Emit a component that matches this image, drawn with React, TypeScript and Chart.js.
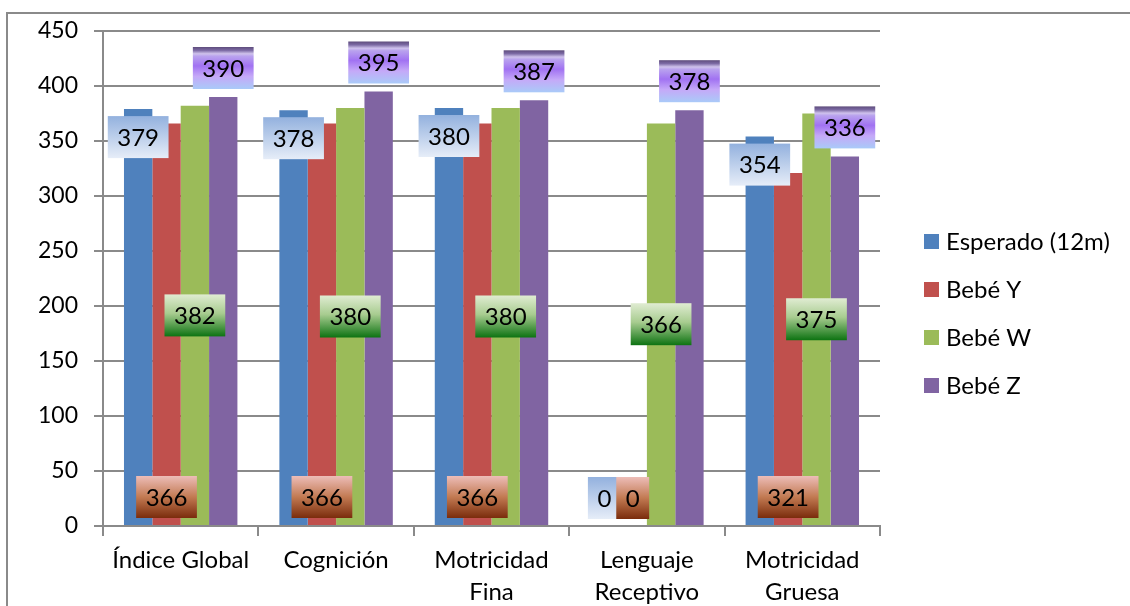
import React, { useEffect, useRef } from "react";
import { Chart, registerables } from "chart.js";

Chart.register(...registerables);

const categories: (string | string[])[] = [
  "Índice Global",
  "Cognición",
  ["Motricidad", "Fina"],
  ["Lenguaje", "Receptivo"],
  ["Motricidad", "Gruesa"],
];
const esperado = [379, 378, 380, 0, 354];
const bebeY = [366, 366, 366, 0, 321];
const bebeW = [382, 380, 380, 366, 375];
const bebeZ = [390, 395, 387, 378, 336];
const seriesNames = ["Esperado (12m)", "Bebé Y", "Bebé W", "Bebé Z"];
const seriesColors = ["#4F81BD", "#C0504D", "#9BBB59", "#8064A2"];
const yTicks = [0, 50, 100, 150, 200, 250, 300, 350, 400, 450];

const FONT = "Lato, 'Open Sans', sans-serif";
const GRID = "#8a8a8a";

type Stop = [number, string];
const labelGradients: Stop[][] = [
  [[0, "#93B1DE"], [1, "#E6EDF8"]],
  [[0, "#EDBDB8"], [0.5, "#C27A52"], [1, "#7A2C0C"]],
  [[0, "#E0ECD2"], [0.45, "#A8CC90"], [1, "#0D7312"]],
  [
    [0, "#5E4C7C"],
    [0.08, "#7C6AA4"],
    [0.16, "#CFC2EC"],
    [0.22, "#B9A2EE"],
    [0.45, "#A172F2"],
    [0.7, "#C5A9F8"],
    [1, "#A9CAF8"],
  ],
];

const labelPlugin = {
  id: "valueBoxes",
  afterDatasetsDraw(chart: any) {
    const ctx = chart.ctx as CanvasRenderingContext2D;
    const boxH = 42;
    ctx.save();
    ctx.font = `24px ${FONT}`;
    ctx.textAlign = "center";
    ctx.textBaseline = "middle";
    chart.data.datasets.forEach((ds: any, di: number) => {
      const meta = chart.getDatasetMeta(di);
      meta.data.forEach((bar: any, i: number) => {
        const v = ds.data[i];
        const text = String(v);
        const w = ctx.measureText(text).width + 19;
        const top = bar.y;
        const base = bar.base;
        let y0: number;
        if (di === 0) y0 = Math.min(top + 7, base - 7 - boxH);
        else if (di === 1) y0 = base - 7 - boxH;
        else if (di === 2) y0 = (top + base) / 2 - boxH / 2;
        else y0 = top - 8 - boxH;
        const x0 = bar.x - w / 2;
        const g = ctx.createLinearGradient(0, y0, 0, y0 + boxH);
        labelGradients[di].forEach(([o, c]) => g.addColorStop(o, c));
        ctx.fillStyle = g;
        ctx.fillRect(x0, y0, w, boxH);
        ctx.fillStyle = "#000";
        ctx.fillText(text, bar.x, y0 + boxH / 2 + 1);
      });
    });
    ctx.restore();
  },
  afterDraw(chart: any) {
    const ctx = chart.ctx as CanvasRenderingContext2D;
    ctx.save();
    // outer frame
    ctx.strokeStyle = GRID;
    ctx.lineWidth = 2;
    ctx.beginPath();
    ctx.moveTo(7, 606);
    ctx.lineTo(7, 13);
    ctx.lineTo(1130, 13);
    ctx.stroke();
    // legend
    ctx.font = `24px ${FONT}`;
    ctx.textAlign = "left";
    ctx.textBaseline = "middle";
    seriesNames.forEach((name, i) => {
      const cy = 241.5 + i * 48;
      ctx.fillStyle = seriesColors[i];
      ctx.fillRect(924, cy - 7.5, 15, 15);
      ctx.fillStyle = "#000";
      ctx.fillText(name, 946, cy + 1);
    });
    ctx.restore();
  },
};

export default function App() {
  const ref = useRef<HTMLCanvasElement>(null);
  useEffect(() => {
    if (!ref.current) return;
    const values = [esperado, bebeY, bebeW, bebeZ];
    const chart = new Chart(ref.current, {
      type: "bar",
      data: {
        labels: categories,
        datasets: values.map((d, i) => ({
          label: seriesNames[i],
          data: d,
          backgroundColor: seriesColors[i],
          borderWidth: 0,
          categoryPercentage: 0.73,
          barPercentage: 1,
        })),
      },
      options: {
        animation: false,
        responsive: false,
        devicePixelRatio: 1,
        layout: { padding: { left: 0, top: 31, right: 250, bottom: 0 } },
        plugins: { legend: { display: false }, tooltip: { enabled: false } },
        scales: {
          x: {
            grid: {
              offset: true,
              drawOnChartArea: false,
              drawTicks: true,
              tickLength: 10,
              color: GRID,
              lineWidth: 2,
            },
            border: { color: GRID, width: 2 },
            ticks: {
              color: "#000",
              font: { family: FONT, size: 24, lineHeight: 1.33 },
              padding: 8,
              maxRotation: 0,
              autoSkip: false,
            },
            afterFit(scale: any) {
              scale.height = 80;
            },
          },
          y: {
            min: 0,
            max: 450,
            afterBuildTicks(scale: any) {
              scale.ticks = yTicks.map((v) => ({ value: v }));
            },
            grid: { color: GRID, lineWidth: 2, tickLength: 9 },
            border: { color: GRID, width: 2 },
            ticks: {
              color: "#000",
              font: { family: FONT, size: 23 },
              padding: 16,
            },
            afterFit(scale: any) {
              scale.width = 103;
            },
          },
        },
      },
      plugins: [labelPlugin],
    });
    return () => chart.destroy();
  }, []);
  return (
    <div style={{ position: "fixed", left: 0, top: 0, width: 1130, height: 606, background: "#fff" }}>
      <canvas ref={ref} width={1130} height={606} />
    </div>
  );
}
